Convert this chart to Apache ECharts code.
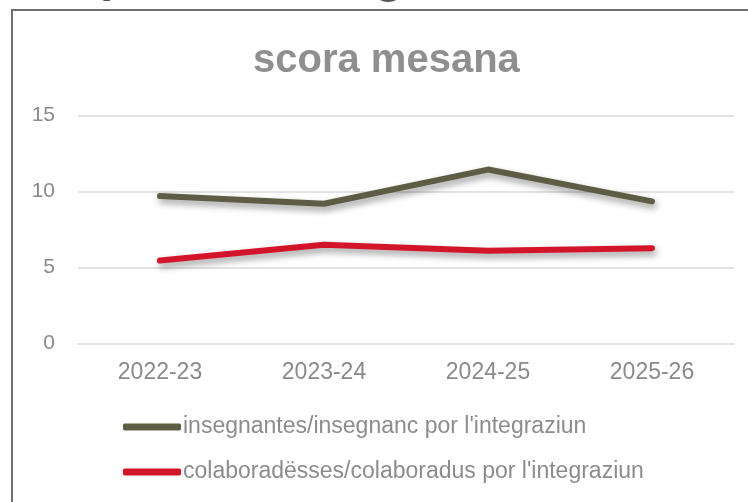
<!DOCTYPE html>
<html>
<head>
<meta charset="utf-8">
<script src="https://cdn.jsdelivr.net/npm/echarts@6/dist/echarts.min.js"></script>
<style>
  html, body { margin: 0; padding: 0; background: #fff; }
  #main { width: 748px; height: 502px; }
</style>
</head>
<body>
<div id="main"></div>
<script>
// data
var years = ['2022-23', '2023-24', '2024-25', '2025-26'];
var insegnantes = [9.7, 9.2, 11.45, 9.35];
var colaboradesses = [5.45, 6.5, 6.1, 6.27];
var seriesNames = ["insegnantes/insegnanc por l'integraziun", "colaboradësses/colaboradus por l'integraziun"];
var yTicks = [0, 5, 10, 15];

var myChart = echarts.init(document.getElementById('main'));

var lineShadow = {
    shadowColor: 'rgba(0,0,0,0.4)',
    shadowBlur: 7,
    shadowOffsetX: 2,
    shadowOffsetY: 4
};

function legendRow(name, top) {
    return {
        orient: 'vertical',
        left: 123,
        top: top,
        padding: 0,
        itemWidth: 58,
        itemHeight: 7,
        icon: 'roundRect',
        textStyle: {
            fontFamily: 'Liberation Sans',
            fontSize: 23,
            lineHeight: 26,
            color: '#8c8c8c',
            padding: [0, 0, 0, -3]
        },
        data: [name]
    };
}

myChart.setOption({
    backgroundColor: '#fff',
    animation: false,
    title: {
        text: 'scora mesana',
        left: 248,
        top: 36,
        textStyle: {
            fontFamily: 'Liberation Sans',
            fontSize: 40,
            fontWeight: 'bold',
            color: '#8f8f8f'
        }
    },
    graphic: [
        {
            type: 'rect',
            shape: { x: 12, y: 10, width: 800, height: 600 },
            style: { fill: 'none', stroke: '#707070', lineWidth: 2 },
            silent: true
        },
        // bottoms of the slide heading, cut off at the top edge
        {
            type: 'text', left: 100, top: -46,
            style: { text: 'p', fontFamily: 'Liberation Sans', fontSize: 48, fontWeight: 'bold', fill: '#555' }
        },
        {
            type: 'text', left: 374, top: -45,
            style: { text: 'g', fontFamily: 'Liberation Sans', fontSize: 48, fontWeight: 'bold', fill: '#555' }
        }
    ],
    legend: [
        legendRow(seriesNames[0], 414),
        legendRow(seriesNames[1], 459)
    ],
    grid: {
        left: 78,
        right: 14,
        top: 115.7,
        bottom: 158.7,
        containLabel: false
    },
    xAxis: {
        type: 'category',
        data: years,
        boundaryGap: true,
        axisLine: { lineStyle: { color: '#e3e3e3', width: 2 } },
        axisTick: { show: false },
        axisLabel: {
            margin: 18,
            fontFamily: 'Liberation Sans',
            fontSize: 23,
            color: '#8a8a8a'
        }
    },
    yAxis: {
        type: 'value',
        min: yTicks[0],
        max: yTicks[yTicks.length - 1],
        interval: 5,
        axisLine: { show: false },
        axisTick: { show: false },
        splitLine: { lineStyle: { color: '#e3e3e3', width: 2 } },
        axisLabel: {
            margin: 23,
            fontFamily: 'Liberation Sans',
            fontSize: 21,
            color: '#8a8a8a'
        }
    },
    series: [
        {
            name: seriesNames[0],
            type: 'line',
            data: insegnantes,
            symbol: 'none',
            itemStyle: { color: '#5c5d44' },
            lineStyle: Object.assign({ color: '#5c5d44', width: 6, cap: 'round', join: 'round' }, lineShadow),
            z: 3
        },
        {
            name: seriesNames[1],
            type: 'line',
            data: colaboradesses,
            symbol: 'none',
            itemStyle: { color: '#d3152b' },
            lineStyle: Object.assign({ color: '#d3152b', width: 6, cap: 'round', join: 'round' }, lineShadow),
            z: 3
        }
    ]
});
</script>
</body>
</html>
